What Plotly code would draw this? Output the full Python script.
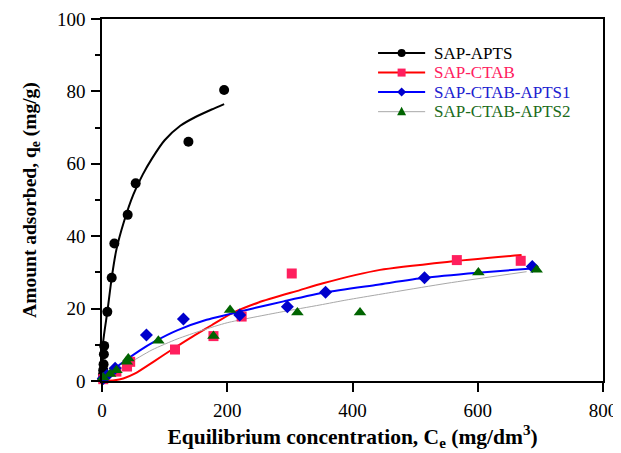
import plotly.graph_objects as go

# ---- data ----
apts_x = [1, 1.5, 2, 2.5, 3, 3.5, 8.5, 15.5, 19.7, 41, 53.8, 138, 195]
apts_y = [0.5, 1.7, 3.0, 4.6, 7.4, 9.7, 19.1, 28.5, 38.0, 45.9, 54.6, 66.1, 80.4]
apts_fit_x = [0, 1, 2, 8.5, 15.5, 23, 35, 50, 65, 80, 100, 125, 150, 175, 195]
apts_fit_y = [0, 4, 11, 19.1, 28.5, 36.3, 44, 51.5, 57, 61.5, 66.5, 70.5, 73, 75, 76.5]

ctab_x = [2, 23, 40, 45, 116.6, 178, 223, 303, 566.6, 668.6]
ctab_y = [0.5, 2.6, 4.0, 5.3, 8.7, 12.4, 17.8, 29.7, 33.4, 33.2]
ctab_fit_x = [0, 20, 34, 53, 82, 110, 140, 175, 205, 250, 316, 353, 444, 551, 670]
ctab_fit_y = [0, 0.2, 0.7, 2.1, 5.3, 8.5, 11.8, 15.4, 18.5, 21.7, 25.1, 27.0, 30.7, 32.9, 34.8]

apts1_x = [2, 8, 21, 71, 130, 220, 296, 357, 515, 687]
apts1_y = [0.7, 1.5, 3.5, 12.7, 17.1, 18.2, 20.5, 24.5, 28.5, 31.6]
apts1_fit_x = [0, 10, 20, 40, 60, 85, 120, 167, 247, 290, 357, 440, 515, 600, 687]
apts1_fit_y = [0, 1.8, 3.4, 6.0, 8.4, 11.0, 14.0, 16.9, 20.3, 22.0, 24.5, 26.6, 28.5, 29.9, 31.1]

apts2_x = [2, 13, 23, 39.4, 42, 90, 178, 204.5, 312, 412, 601, 694]
apts2_y = [1.0, 1.9, 3.0, 5.3, 6.2, 11.1, 12.4, 19.6, 18.9, 18.9, 30.0, 30.7]
apts2_fit_x = [0, 20, 40, 80, 120, 160, 200, 284, 348, 391, 470, 551, 678]
apts2_fit_y = [0, 2.4, 4.6, 8.6, 11.6, 14.0, 16.1, 19.0, 21.0, 22.4, 24.7, 27.0, 30.2]

names = ["SAP-APTS", "SAP-CTAB", "SAP-CTAB-APTS1", "SAP-CTAB-APTS2"]
text_colors = ["#000000", "#FF2060", "#2020D0", "#1A6B1A"]
line_colors = ["#000000", "#FF0000", "#0000FF", "#A8A8A8"]
line_widths = [2, 2, 2, 1]
marker_colors = ["#000000", "#FF1F5E", "#0000CC", "#006400"]
marker_symbols = ["circle", "square", "diamond", "triangle-up"]
marker_sizes = [10, 10, 10, 11]

pts = [(apts_x, apts_y), (ctab_x, ctab_y), (apts1_x, apts1_y), (apts2_x, apts2_y)]
fits = [(apts_fit_x, apts_fit_y), (ctab_fit_x, ctab_fit_y),
        (apts1_fit_x, apts1_fit_y), (apts2_fit_x, apts2_fit_y)]

fig = go.Figure()
for i in range(4):
    fx, fy = fits[i]
    fig.add_trace(go.Scatter(x=fx, y=fy, mode="lines", showlegend=False, name=names[i],
                             line=dict(color=line_colors[i], width=line_widths[i], shape="spline", smoothing=0.6),
                             cliponaxis=False, hoverinfo="skip"))
for i in range(4):
    px_, py_ = pts[i]
    fig.add_trace(go.Scatter(x=px_, y=py_, mode="markers", showlegend=False, name=names[i],
                             marker=dict(color=marker_colors[i], symbol=marker_symbols[i],
                                         size=marker_sizes[i], line=dict(width=0)),
                             cliponaxis=False))

# ---- hand-built legend (paper coordinates) ----
leg_line_x0, leg_line_x1, leg_text_x = 0.551, 0.645, 0.659
leg_mark_x = (leg_line_x0 + leg_line_x1) / 2
leg_rows_y = [0.906, 0.852, 0.798, 0.744]
shapes = []
annotations = []
r = 4
marker_paths = {
    "diamond": f"M0,{r+0.5} L{r+0.5},0 L0,{-r-0.5} L{-r-0.5},0 Z",
    "triangle-up": f"M{-r-0.5},{-r+0.5} L{r+0.5},{-r+0.5} L0,{r+1} Z",
}
for i in range(4):
    yy = leg_rows_y[i]
    shapes.append(dict(type="line", xref="paper", yref="paper", x0=leg_line_x0, x1=leg_line_x1,
                       y0=yy, y1=yy, line=dict(color=line_colors[i], width=line_widths[i])))
    common = dict(xref="paper", yref="paper", xsizemode="pixel", ysizemode="pixel",
                  xanchor=leg_mark_x, yanchor=yy, fillcolor=marker_colors[i], line=dict(width=0))
    if marker_symbols[i] == "circle":
        shapes.append(dict(type="circle", x0=-r, x1=r, y0=-r, y1=r, **common))
    elif marker_symbols[i] == "square":
        shapes.append(dict(type="rect", x0=-r, x1=r, y0=-r, y1=r, **common))
    else:
        shapes.append(dict(type="path", path=marker_paths[marker_symbols[i]], **common))
    annotations.append(dict(text=names[i], x=leg_text_x, y=yy, xref="paper", yref="paper",
                            xanchor="left", yanchor="middle", showarrow=False,
                            font=dict(size=17, color=text_colors[i])))

font_family = "Liberation Serif"
fig.update_layout(
    width=621, height=453,
    margin=dict(l=94, r=26, t=11, b=80),
    paper_bgcolor="white", plot_bgcolor="white",
    font=dict(family=font_family, size=19, color="black"),
    showlegend=False,
    shapes=shapes,
    annotations=annotations,
    xaxis=dict(range=[0, 800], dtick=200, showgrid=False, zeroline=False, automargin=False,
               showline=True, linecolor="black", linewidth=1.5, mirror=True,
               ticks="outside", ticklen=9, tickwidth=1.5, tickcolor="black",
               ticklabelstandoff=2,
               title=dict(text="<b>Equilibrium concentration, C<sub>e</sub> (mg/dm<sup>3</sup>)</b>",
                          font=dict(size=21.5), standoff=9)),
    yaxis=dict(range=[0, 100], dtick=20, showgrid=False, zeroline=False, automargin=False,
               showline=True, linecolor="black", linewidth=1.5, mirror=True,
               ticks="outside", ticklen=9, tickwidth=1.5, tickcolor="black",
               ticklabelstandoff=2,
               minor=dict(dtick=10, ticks="outside", ticklen=5, tickwidth=1.5, tickcolor="black", showgrid=False),
               title=dict(text="<b>Amount adsorbed, q<sub>e</sub> (mg/g)</b>",
                          font=dict(size=19.5), standoff=15)),
)
fig.write_html("out.html")
